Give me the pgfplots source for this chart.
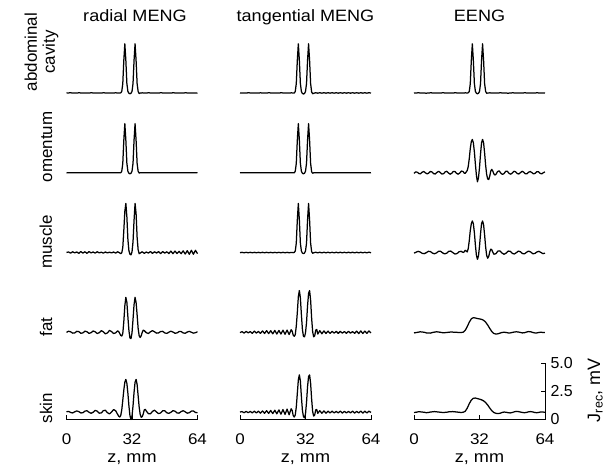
\documentclass[border=0pt]{standalone}
\usepackage{fontspec}
\setmainfont{Liberation Sans}
\newfontfamily\hfont{Liberation Sans}[FakeStretch=1.1]
\usepackage{pgfplots}
\pgfplotsset{compat=1.18}
\pgfplotsset{
  panel/.style={scale only axis, width=131bp, height=56.5bp,
    xmin=0, xmax=64, ymin=0, ymax=5, clip=false, anchor=south west,
    axis x line*=bottom, axis y line*=left,
    x axis line style={draw=none}, y axis line style={draw=none},
    xtick=\empty, ytick=\empty},
  sig/.style={black, line width=1.25bp, line join=round, mark=none},
  coltitle/.style={title={#1}, title style={at={(axis description cs:0.5,1)}, anchor=base, yshift=16bp, font=\hfont\fontsize{16.5}{18}\selectfont}},
  rowlab/.style 2 args={ylabel={#1}, ylabel style={at={(axis description cs:0,#2)}, anchor=base, yshift=14.5bp, font=\fontsize{17}{18}\selectfont}},
  bottomrow/.style={x axis line style={draw=black, line width=0.9bp}, xtick={0,32,64}, tick align=inside,
    major tick length=4bp, xlabel={z, mm},
    xlabel style={at={(axis description cs:0.5,0)}, anchor=base, yshift=-43bp, font=\hfont\fontsize{16.5}{18}\selectfont},
    xticklabel style={font=\hfont\fontsize{15.5}{16}\selectfont, yshift=-11bp},
    /pgf/number format/assume math mode=true,
    every tick/.style={black, line width=0.9bp}},
}
\begin{document}
\begin{tikzpicture}
\path[use as bounding box] (0bp,0bp) rectangle (616bp,466bp);
% ---------------- Row 1: abdominal cavity
\begin{axis}[panel, at={(66.5bp,365.7bp)}, coltitle={radial MENG},
  title style={xshift=3bp},
  ylabel={abdominal\\cavity}, ylabel style={at={(axis description cs:0,0.855)}, anchor=center, align=center, yshift=25bp, font=\fontsize{17}{18}\selectfont}]
\addplot[sig] coordinates {(0,0.65) (2,0.66) (4,0.64) (6,0.66) (8,0.65) (10,0.64) (12,0.66) (14,0.65) (16,0.64) (18,0.66) (20,0.65) (22,0.64) (24,0.66) (25,0.65) (26,0.64) (26.5,0.66) (27,0.78) (27.5,1.48) (28,3.52) (28.5,5.00) (29,3.52) (29.5,1.48) (30,0.78) (30.5,0.62) (31,0.58) (31.5,0.62) (32,0.78) (32.5,1.48) (33,3.52) (33.5,5.00) (34,3.52) (34.5,1.48) (35,0.78) (35.5,0.6) (36,0.64) (37,0.66) (38,0.64) (40,0.66) (42,0.65) (44,0.64) (46,0.66) (48,0.65) (50,0.64) (52,0.66) (54,0.65) (56,0.64) (58,0.66) (60,0.65) (62,0.64) (64,0.65)};
\end{axis}
\begin{axis}[panel, at={(240bp,365.7bp)}, coltitle={tangential MENG}]
\addplot[sig] coordinates {(0,0.65) (2,0.64) (4,0.66) (6,0.65) (8,0.64) (10,0.66) (12,0.64) (14,0.66) (16,0.65) (18,0.64) (20,0.66) (22,0.65) (24,0.64) (25,0.66) (26,0.65) (26.5,0.64) (27,0.78) (27.5,1.48) (28,3.52) (28.5,5.00) (29,3.52) (29.5,1.48) (30,0.78) (30.5,0.6) (31,0.56) (31.5,0.6) (32,0.78) (32.5,1.48) (33,3.52) (33.5,5.00) (34,3.52) (34.5,1.48) (35,0.74) (35.5,0.58) (36,0.62) (37,0.67) (38,0.63) (39,0.67) (40,0.63) (41,0.67) (42,0.63) (43,0.67) (44,0.63) (45,0.67) (46,0.63) (47,0.67) (48,0.63) (49,0.67) (50,0.63) (51,0.67) (52,0.63) (53,0.67) (54,0.63) (55,0.67) (56,0.63) (57,0.67) (58,0.63) (59,0.67) (60,0.63) (61,0.67) (62,0.63) (63,0.67) (64,0.64)};
\end{axis}
\begin{axis}[panel, at={(414bp,365.7bp)}, coltitle={EENG}]
\addplot[sig] coordinates {(0,0.64) (2,0.66) (4,0.65) (6,0.63) (8,0.66) (10,0.65) (12,0.64) (14,0.66) (16,0.65) (18,0.64) (20,0.66) (22,0.65) (24,0.64) (25,0.66) (26,0.65) (26.5,0.66) (27,0.78) (27.5,1.48) (28,3.52) (28.5,5.00) (29,3.52) (29.5,1.48) (30,0.78) (30.5,0.62) (31,0.58) (31.5,0.62) (32,0.78) (32.5,1.48) (33,3.52) (33.5,5.00) (34,3.52) (34.5,1.48) (35,0.78) (35.5,0.62) (36,0.64) (37,0.66) (38,0.65) (40,0.64) (42,0.66) (44,0.65) (46,0.63) (48,0.66) (50,0.65) (52,0.64) (54,0.66) (56,0.65) (58,0.64) (60,0.66) (62,0.65) (64,0.64)};
\end{axis}
% ---------------- Row 2: omentum
\begin{axis}[panel, at={(66.5bp,285.9bp)}, rowlab={omentum}{0.586}]
\addplot[sig] coordinates {(0,0.65) (2,0.64) (4,0.66) (6,0.65) (8,0.64) (10,0.66) (12,0.65) (14,0.64) (16,0.66) (18,0.65) (20,0.64) (22,0.66) (24,0.65) (25,0.64) (26,0.66) (26.5,0.65) (27,0.78) (27.5,1.48) (28,3.52) (28.5,5.00) (29,3.52) (29.5,1.48) (30,0.78) (30.5,0.6) (31,0.56) (31.5,0.6) (32,0.78) (32.5,1.48) (33,3.52) (33.5,5.00) (34,3.52) (34.5,1.48) (35,0.78) (35.5,0.62) (36,0.65) (37,0.64) (38,0.66) (40,0.65) (42,0.64) (44,0.66) (46,0.65) (48,0.64) (50,0.66) (52,0.65) (54,0.64) (56,0.66) (58,0.65) (60,0.64) (62,0.66) (64,0.65)};
\end{axis}
\begin{axis}[panel, at={(240bp,285.9bp)}]
\addplot[sig] coordinates {(0,0.65) (2,0.66) (4,0.65) (6,0.64) (8,0.66) (10,0.65) (12,0.64) (14,0.66) (16,0.65) (18,0.64) (20,0.66) (22,0.65) (24,0.64) (25,0.66) (26,0.65) (26.5,0.64) (27,0.78) (27.5,1.48) (28,3.52) (28.5,5.00) (29,3.52) (29.5,1.48) (30,0.78) (30.5,0.6) (31,0.56) (31.5,0.6) (32,0.78) (32.5,1.48) (33,3.52) (33.5,5.00) (34,3.52) (34.5,1.48) (35,0.74) (35.5,0.6) (36,0.65) (37,0.66) (38,0.64) (40,0.65) (42,0.66) (44,0.64) (46,0.65) (48,0.66) (50,0.64) (52,0.65) (54,0.66) (56,0.64) (58,0.65) (60,0.66) (62,0.64) (64,0.65)};
\end{axis}
\begin{axis}[panel, at={(414bp,285.9bp)}]
\addplot[sig] coordinates {(0,0.6) (0.8,0.72) (1.6,0.7) (2.4,0.58) (3.2,0.56) (4,0.7) (4.8,0.76) (5.6,0.64) (6.4,0.55) (7.2,0.62) (8,0.76) (8.8,0.72) (9.6,0.57) (10.4,0.54) (11.2,0.68) (12,0.78) (12.8,0.68) (13.6,0.54) (14.4,0.56) (15.2,0.72) (16,0.78) (16.8,0.64) (17.6,0.52) (18.4,0.6) (19.2,0.76) (20,0.76) (20.8,0.6) (21.6,0.52) (22.4,0.64) (23.2,0.8) (24,0.76) (24.5,0.62) (25,0.6) (25.5,0.72) (26,0.85) (26.5,1.2) (27,1.9) (27.5,2.8) (28,3.4) (28.5,3.6) (29,3.3) (29.5,2.5) (30,1.4) (30.5,0.4) (31,-0.15) (31.5,0.2) (32,1.1) (32.5,2.3) (33,3.3) (33.5,3.6) (34,3.3) (34.5,2.4) (35,1.3) (35.5,0.5) (36,0.1) (36.5,0.05) (37,0.35) (37.5,0.8) (38,0.95) (38.5,0.8) (39,0.55) (39.5,0.45) (40,0.5) (40.8,0.75) (41.6,0.82) (42.4,0.62) (43.2,0.5) (44,0.58) (44.8,0.78) (45.6,0.78) (46.4,0.6) (47.2,0.52) (48,0.62) (48.8,0.78) (49.6,0.74) (50.4,0.58) (51.2,0.54) (52,0.66) (52.8,0.78) (53.6,0.7) (54.4,0.56) (55.2,0.56) (56,0.7) (56.8,0.76) (57.6,0.66) (58.4,0.55) (59.2,0.6) (60,0.74) (60.8,0.74) (61.6,0.6) (62.4,0.55) (63.2,0.66) (64,0.72)};
\end{axis}
% ---------------- Row 3: muscle
\begin{axis}[panel, at={(66.5bp,206.1bp)}, rowlab={muscle}{0.317}]
\addplot[sig] coordinates {(0,0.66) (1,0.7) (2,0.6) (3,0.72) (4,0.62) (5,0.7) (6,0.58) (7,0.74) (8,0.6) (9,0.72) (10,0.58) (11,0.74) (12,0.62) (13,0.7) (14,0.6) (15,0.72) (16,0.62) (17,0.68) (18,0.6) (19,0.7) (20,0.62) (21,0.68) (22,0.62) (23,0.7) (24,0.6) (25,0.72) (26,0.62) (26.5,0.55) (27,0.62) (27.5,1.1) (28,2.6) (28.5,4.3) (29,5.0) (29.5,3.8) (30,1.8) (30.5,0.8) (31,0.5) (31.5,0.45) (32,0.7) (32.5,1.6) (33,3.5) (33.5,5.0) (34,4.1) (34.5,2.0) (35,0.9) (35.5,0.55) (36,0.6) (37,0.72) (38,0.58) (39,0.7) (40,0.6) (41,0.74) (42,0.58) (43,0.72) (44,0.6) (45,0.74) (46,0.56) (47,0.74) (48,0.6) (49,0.72) (50,0.56) (51,0.78) (52,0.55) (53,0.78) (54,0.56) (55,0.76) (56,0.55) (57,0.8) (58,0.52) (59,0.82) (60,0.5) (61,0.85) (62,0.5) (63,0.85) (64,0.55)};
\end{axis}
\begin{axis}[panel, at={(240bp,206.1bp)}]
\addplot[sig] coordinates {(0,0.64) (1,0.67) (2,0.63) (3,0.67) (4,0.63) (5,0.67) (6,0.63) (7,0.67) (8,0.63) (9,0.67) (10,0.63) (11,0.67) (12,0.63) (13,0.67) (14,0.63) (15,0.67) (16,0.63) (17,0.67) (18,0.63) (19,0.67) (20,0.63) (21,0.67) (22,0.63) (23,0.67) (24,0.63) (25,0.66) (26,0.64) (26.5,0.66) (27,0.78) (27.5,1.48) (28,3.52) (28.5,5.00) (29,3.52) (29.5,1.48) (30,0.78) (30.5,0.6) (31,0.56) (31.5,0.6) (32,0.78) (32.5,1.48) (33,3.52) (33.5,5.00) (34,3.52) (34.5,1.48) (35,0.74) (35.5,0.58) (36,0.63) (37,0.68) (38,0.62) (39,0.68) (40,0.62) (41,0.68) (42,0.62) (43,0.68) (44,0.62) (45,0.68) (46,0.62) (47,0.68) (48,0.62) (49,0.68) (50,0.62) (51,0.68) (52,0.62) (53,0.68) (54,0.62) (55,0.68) (56,0.62) (57,0.68) (58,0.62) (59,0.68) (60,0.62) (61,0.68) (62,0.62) (63,0.69) (64,0.63)};
\end{axis}
\begin{axis}[panel, at={(414bp,206.1bp)}]
\addplot[sig] coordinates {(0,0.6) (1,0.68) (2,0.76) (3,0.7) (4,0.58) (5,0.55) (6,0.64) (7,0.76) (8,0.74) (9,0.6) (10,0.54) (11,0.62) (12,0.76) (13,0.76) (14,0.62) (15,0.53) (16,0.6) (17,0.76) (18,0.78) (19,0.64) (20,0.52) (21,0.56) (22,0.72) (23,0.76) (24,0.66) (24.5,0.7) (25,0.85) (25.5,0.8) (26,0.7) (26.5,1.0) (27,1.7) (27.5,2.6) (28,3.2) (28.5,3.45) (29,3.2) (29.5,2.4) (30,1.3) (30.5,0.4) (31,0.05) (31.5,0.35) (32,1.2) (32.5,2.3) (33,3.2) (33.5,3.45) (34,3.1) (34.5,2.2) (35,1.15) (35.5,0.4) (36,0.15) (36.5,0.3) (37,0.7) (37.5,0.95) (38,0.9) (38.5,0.68) (39,0.5) (40,0.55) (41,0.78) (42,0.8) (43,0.6) (44,0.5) (45,0.6) (46,0.78) (47,0.76) (48,0.58) (49,0.52) (50,0.64) (51,0.78) (52,0.72) (53,0.56) (54,0.54) (55,0.68) (56,0.78) (57,0.7) (58,0.55) (59,0.56) (60,0.7) (61,0.76) (62,0.66) (63,0.55) (64,0.6)};
\end{axis}
% ---------------- Row 4: fat
\begin{axis}[panel, at={(66.5bp,126.3bp)}, rowlab={fat}{0.225}]
\addplot[sig] coordinates {(0,0.65) (1,0.75) (2,0.7) (3,0.58) (4,0.6) (5,0.74) (6,0.72) (7,0.57) (8,0.6) (9,0.76) (10,0.7) (11,0.56) (12,0.62) (13,0.77) (14,0.7) (15,0.55) (16,0.62) (17,0.8) (18,0.7) (19,0.52) (20,0.6) (21,0.82) (22,0.72) (23,0.55) (24,0.6) (25,0.78) (25.5,0.72) (26,0.55) (26.5,0.38) (27,0.32) (27.5,0.55) (28,1.6) (28.5,3.0) (29,3.75) (29.5,3.3) (30,2.0) (30.5,0.8) (31,0.15) (31.5,0.1) (32,0.6) (32.5,1.8) (33,3.1) (33.5,3.75) (34,3.3) (34.5,2.2) (35,1.0) (35.5,0.35) (36,0.2) (36.5,0.35) (37,0.65) (37.5,0.85) (38,0.8) (39,0.62) (40,0.55) (41,0.7) (42,0.8) (43,0.7) (44,0.58) (45,0.6) (46,0.72) (47,0.74) (48,0.6) (49,0.56) (50,0.66) (51,0.75) (52,0.68) (53,0.57) (54,0.6) (55,0.72) (56,0.72) (57,0.6) (58,0.57) (59,0.68) (60,0.74) (61,0.66) (62,0.58) (63,0.62) (64,0.7)};
\end{axis}
\begin{axis}[panel, at={(240bp,126.3bp)}]
\addplot[sig] coordinates {(0,0.62) (1,0.72) (2,0.58) (3,0.74) (4,0.6) (5,0.72) (6,0.56) (7,0.76) (8,0.58) (9,0.74) (10,0.56) (11,0.78) (12,0.55) (13,0.8) (14,0.54) (15,0.8) (16,0.52) (17,0.82) (18,0.5) (19,0.82) (20,0.5) (21,0.84) (22,0.48) (23,0.85) (24,0.45) (25,0.88) (25.5,0.75) (26,0.4) (26.5,0.3) (27,0.45) (27.5,1.2) (28,2.4) (28.5,3.8) (29,4.35) (29.5,3.7) (30,2.2) (30.5,0.9) (31,0.3) (31.5,0.25) (32,0.6) (32.5,1.5) (33,3.0) (33.5,4.1) (34,4.35) (34.5,3.5) (35,1.9) (35.5,0.7) (36,0.25) (36.5,0.35) (37,0.85) (37.5,0.9) (38,0.5) (39,0.8) (40,0.52) (41,0.78) (42,0.55) (43,0.76) (44,0.56) (45,0.74) (46,0.58) (47,0.74) (48,0.56) (49,0.74) (50,0.58) (51,0.72) (52,0.56) (53,0.74) (54,0.58) (55,0.72) (56,0.56) (57,0.76) (58,0.54) (59,0.78) (60,0.55) (61,0.76) (62,0.56) (63,0.78) (64,0.6)};
\end{axis}
\begin{axis}[panel, at={(414bp,126.3bp)}]
\addplot[sig] coordinates {(0,0.6) (2,0.66) (3,0.7) (5,0.66) (6,0.6) (8,0.58) (9,0.64) (11,0.7) (12,0.68) (14,0.62) (15,0.62) (17,0.66) (18,0.68) (20,0.66) (22,0.64) (23,0.64) (24,0.66) (25,0.82) (26,1.15) (27,1.55) (28,1.85) (29,1.95) (30,1.92) (31,1.87) (32,1.84) (33,1.8) (34,1.72) (35,1.55) (36,1.3) (37,1.0) (38,0.72) (39,0.55) (40,0.5) (41,0.52) (42,0.58) (43,0.64) (44,0.66) (45,0.64) (46,0.6) (47,0.6) (48,0.64) (49,0.68) (50,0.7) (51,0.68) (52,0.64) (53,0.6) (54,0.62) (55,0.68) (56,0.72) (57,0.7) (58,0.64) (59,0.6) (60,0.6) (61,0.64) (62,0.66) (63,0.64) (64,0.64)};
\end{axis}
% ---------------- Row 5: skin
\begin{axis}[panel, bottomrow, at={(66.5bp,46.5bp)}, rowlab={skin}{0.204}]
\addplot[sig] coordinates {(0,0.68) (1,0.72) (2,0.62) (3,0.58) (4,0.68) (5,0.76) (6,0.7) (7,0.58) (8,0.6) (9,0.74) (10,0.78) (11,0.64) (12,0.55) (13,0.64) (14,0.8) (15,0.74) (16,0.56) (17,0.58) (18,0.78) (19,0.82) (20,0.6) (21,0.5) (22,0.66) (23,0.88) (24,0.78) (25,0.45) (25.5,0.3) (26,0.22) (26.5,0.35) (27,0.85) (27.5,1.7) (28,2.6) (28.5,3.3) (29,3.55) (29.5,3.2) (30,2.3) (30.5,1.2) (31,0.35) (31.5,0.0) (32,0.3) (32.5,1.2) (33,2.4) (33.5,3.3) (34,3.55) (34.5,3.1) (35,2.1) (35.5,1.1) (36,0.45) (36.5,0.2) (37,0.25) (37.5,0.5) (38,0.85) (38.5,0.9) (39,0.75) (40,0.52) (41,0.5) (42,0.72) (43,0.82) (44,0.66) (45,0.52) (46,0.58) (47,0.78) (48,0.78) (49,0.6) (50,0.54) (51,0.64) (52,0.78) (53,0.74) (54,0.58) (55,0.56) (56,0.7) (57,0.78) (58,0.68) (59,0.56) (60,0.6) (61,0.74) (62,0.76) (63,0.62) (64,0.6)};
\end{axis}
\begin{axis}[panel, bottomrow, at={(240bp,46.5bp)}]
\addplot[sig] coordinates {(0,0.66) (1,0.7) (2,0.6) (3,0.72) (4,0.6) (5,0.72) (6,0.58) (7,0.74) (8,0.58) (9,0.74) (10,0.56) (11,0.76) (12,0.55) (13,0.78) (14,0.54) (15,0.8) (16,0.52) (17,0.82) (18,0.5) (19,0.85) (20,0.47) (21,0.88) (22,0.45) (23,0.92) (24,0.42) (25,0.95) (25.5,0.8) (26,0.35) (26.5,0.22) (27,0.4) (27.5,1.1) (28,2.3) (28.5,3.5) (29,3.95) (29.5,3.4) (30,2.0) (30.5,0.8) (31,0.25) (31.5,0.15) (32,0.5) (32.5,1.5) (33,2.9) (33.5,3.8) (34,3.95) (34.5,3.2) (35,1.8) (35.5,0.7) (36,0.3) (36.5,0.4) (37,0.85) (37.5,0.88) (38,0.55) (39,0.78) (40,0.55) (41,0.76) (42,0.56) (43,0.74) (44,0.58) (45,0.74) (46,0.58) (47,0.72) (48,0.58) (49,0.74) (50,0.57) (51,0.72) (52,0.58) (53,0.72) (54,0.58) (55,0.74) (56,0.57) (57,0.72) (58,0.58) (59,0.74) (60,0.57) (61,0.74) (62,0.58) (63,0.74) (64,0.62)};
\end{axis}
\begin{axis}[panel, bottomrow, at={(414bp,46.5bp)},
  axis y line*=right, y axis line style={draw=black, line width=0.9bp},
  ytick={0,2.5,5}, yticklabels={0,2.5,5.0},
  yticklabel style={font=\fontsize{16}{17}\selectfont, xshift=2bp},
  ylabel={J\textsubscript{rec}, mV},
  ylabel style={at={(axis description cs:1,0.52)}, anchor=base, yshift=-55bp, font=\fontsize{18}{20}\selectfont}]
\addplot[sig] coordinates {(0,0.62) (1,0.64) (2,0.68) (3,0.68) (5,0.64) (6,0.6) (7,0.62) (8,0.66) (10,0.7) (11,0.68) (13,0.64) (14,0.62) (16,0.64) (17,0.68) (19,0.7) (20,0.68) (22,0.64) (23,0.62) (24,0.64) (25,0.72) (26,1.0) (27,1.4) (28,1.72) (29,1.88) (30,1.9) (31,1.85) (32,1.8) (33,1.74) (34,1.65) (35,1.5) (36,1.28) (37,1.02) (38,0.78) (39,0.62) (40,0.55) (41,0.52) (42,0.55) (43,0.62) (44,0.66) (45,0.64) (46,0.6) (47,0.58) (48,0.62) (49,0.68) (50,0.72) (51,0.7) (52,0.66) (53,0.62) (54,0.6) (55,0.63) (56,0.68) (57,0.7) (58,0.67) (59,0.62) (60,0.6) (61,0.63) (62,0.67) (63,0.66) (64,0.64)};
\end{axis}
\end{tikzpicture}
\end{document}
